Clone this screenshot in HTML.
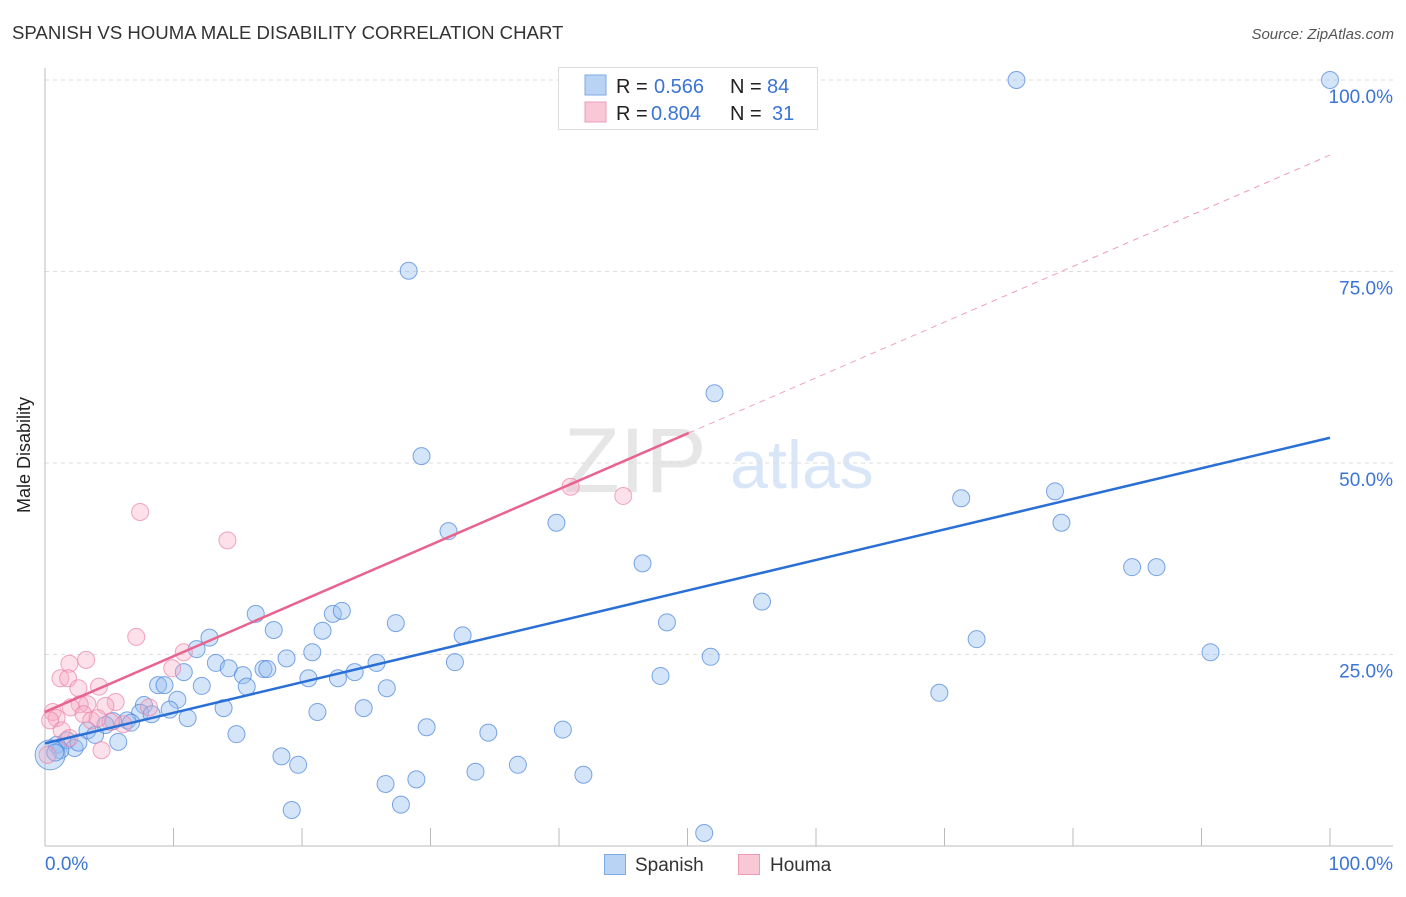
<!DOCTYPE html>
<html><head><meta charset="utf-8"><style>
body{margin:0;background:#fff;font-family:"Liberation Sans",sans-serif;}
svg text{font-family:"Liberation Sans",sans-serif;}
</style></head><body>
<svg id="chart" width="1406" height="892">
<text x="12" y="39" font-size="18.6" fill="#333">SPANISH VS HOUMA MALE DISABILITY CORRELATION CHART</text>
<text x="1394" y="39" font-size="15" fill="#555" text-anchor="end" font-style="italic">Source: ZipAtlas.com</text>
<g>
<text x="635" y="492" font-size="92" fill="#e6e6e6" text-anchor="middle" font-family="Liberation Serif">ZIP</text>
<text x="802" y="488" font-size="68" fill="#d8e6f7" text-anchor="middle">atlas</text>
</g>
<g id="grid"></g>
<g id="axes"></g>
<g id="marks"></g>
<text x="30" y="455" font-size="18" fill="#222" text-anchor="middle" transform="rotate(-90 30 455)">Male Disability</text>
<g>
<rect x="558.5" y="67.5" width="259" height="62" fill="#fff" stroke="#ddd"/>
<rect x="585" y="75" width="21" height="20" fill="#b9d3f5" stroke="#7fa9e6"/>
<rect x="585" y="102" width="21" height="20" fill="#f9c8d6" stroke="#ee9bb4"/>
<text x="616" y="93" font-size="20" fill="#222">R = </text><text x="654" y="93" font-size="20" fill="#3a74d6">0.566</text>
<text x="730" y="93" font-size="20" fill="#222">N = </text><text x="767" y="93" font-size="20" fill="#3a74d6">84</text>
<text x="616" y="120" font-size="20" fill="#222">R = </text><text x="651" y="120" font-size="20" fill="#3a74d6">0.804</text>
<text x="730" y="120" font-size="20" fill="#222">N = </text><text x="772" y="120" font-size="20" fill="#3a74d6">31</text>
</g>
<g>
<rect x="604.5" y="854.5" width="21" height="20" fill="#b9d3f5" stroke="#7fa9e6"/>
<text x="635" y="871" font-size="19" fill="#333">Spanish</text>
<rect x="738.5" y="854.5" width="21" height="20" fill="#f9c8d6" stroke="#ee9bb4"/>
<text x="770" y="871" font-size="19" fill="#333">Houma</text>
</g>
</svg>
<script>
const yTicks=[25,50,75,100];
const yTickLabels=["25.0%","50.0%","75.0%","100.0%"];
const xTickCount=10;
const spanishX=[75.6,100,28.3,52.1,29.3,71.3,78.6,79.1,39.8,31.4,46.5,84.6,86.5,55.8,16.4,22.4,23.1,27.3,48.4,17.8,21.6,32.5,12.8,72.5,11.8,20.8,90.7,51.8,13.3,18.8,25.8,31.9,14.3,17.0,17.3,10.8,15.4,24.1,20.5,22.8,47.9,8.8,9.3,12.2,15.7,26.6,69.6,10.3,7.7,13.9,9.7,24.8,7.4,8.3,21.2,11.1,6.4,5.3,6.7,4.7,3.3,29.7,40.3,14.9,34.5,3.9,1.7,5.7,0.9,2.3,1.2,0.4,18.4,19.7,36.8,33.5,41.9,28.9,26.5,27.7,19.2,51.3,0.8,2.6];
const spanishY=[100,100,75.1,59.1,50.9,45.4,46.3,42.2,42.2,41.1,36.9,36.4,36.4,31.9,30.3,30.3,30.7,29.1,29.2,28.2,28.1,27.5,27.2,27.0,25.7,25.3,25.3,24.7,23.9,24.5,23.9,24.0,23.2,23.1,23.1,22.7,22.3,22.7,21.9,21.9,22.2,21.0,21.0,20.9,20.8,20.6,20.0,19.1,18.4,18.0,17.8,18.0,17.4,17.2,17.5,16.7,16.4,16.3,16.1,15.8,15.1,15.5,15.2,14.6,14.8,14.5,13.8,13.6,13.2,12.8,12.5,11.9,11.7,10.6,10.6,9.7,9.3,8.7,8.1,5.4,4.7,1.7,12.2,13.5];
const houmaX=[7.4,14.2,40.9,45.0,7.1,3.2,1.9,10.8,9.9,1.2,1.8,2.6,4.2,5.5,3.3,2.7,2.0,4.7,8.1,0.6,0.9,3.0,3.6,4.1,0.4,1.3,1.9,4.4,0.2,5.1,6.1];
const houmaY=[43.6,39.9,46.9,45.7,27.3,24.3,23.8,25.3,23.2,21.9,21.9,20.6,20.8,18.8,18.5,18.5,18.1,18.3,18.1,17.5,16.7,17.2,16.4,16.7,16.4,15.1,14.1,12.5,11.9,16.2,15.9];
const spanishTrend=[13.4,53.3];
const houmaTrend=[17.5,90.2];
const houmaSolidEnd=50.1;
const NS="http://www.w3.org/2000/svg";
const X=v=>45+v*12.85, Y=v=>846-v*7.66;
function mk(tag,parent,attrs){const e=document.createElementNS(NS,tag);for(const k in attrs)e.setAttribute(k,attrs[k]);document.getElementById(parent).appendChild(e);return e;}
yTicks.forEach((t,i)=>{
 const g=mk('line','grid',{x1:45,x2:1393,y1:Y(t),y2:Y(t),stroke:'#ddd','stroke-dasharray':'4,4'});
 
 
 const l=mk('text','axes',{x:1393,y:Y(t)+23,'font-size':19,fill:'#3a74d6','text-anchor':'end'});
 l.textContent=yTickLabels[i];
 
 
});
const ax=mk('line','axes',{x1:45,x2:45,y1:68,y2:846,stroke:'#bbb'});


const bx=mk('line','axes',{x1:45,x2:1393,y1:846,y2:846,stroke:'#bbb'});


for(let i=0;i<=xTickCount;i++){
 const t=mk('line','axes',{x1:X(i*10),x2:X(i*10),y1:828,y2:846,stroke:'#bbb'});
 
 
}
const x0=mk('text','axes',{x:45,y:870,'font-size':19,fill:'#3a74d6'});x0.textContent='0.0%';


const x1=mk('text','axes',{x:1393,y:870,'font-size':19,fill:'#3a74d6','text-anchor':'end'});x1.textContent='100.0%';


spanishX.forEach((v,i)=>{
 const c=mk('circle','marks',{cx:X(v),cy:Y(spanishY[i]),r:i===71?15:8.5,fill:'rgba(150,190,240,0.4)',stroke:'rgba(70,130,220,0.7)','stroke-width':1});
 
 
});
houmaX.forEach((v,i)=>{
 const c=mk('circle','marks',{cx:X(v),cy:Y(houmaY[i]),r:8.5,fill:'rgba(245,170,195,0.35)',stroke:'rgba(235,130,165,0.7)','stroke-width':1});
 
 
});
const hs=houmaTrend[0]+(houmaTrend[1]-houmaTrend[0])*houmaSolidEnd/100;
const hd=mk('line','marks',{x1:X(houmaSolidEnd),y1:Y(hs),x2:X(100),y2:Y(houmaTrend[1]),stroke:'#f0a0b8','stroke-width':1,'stroke-dasharray':'6,5'});


const hl=mk('line','marks',{x1:X(0),y1:Y(houmaTrend[0]),x2:X(houmaSolidEnd),y2:Y(hs),stroke:'#e8638e','stroke-width':2.5});


const sl=mk('line','marks',{x1:X(0),y1:Y(spanishTrend[0]),x2:X(100),y2:Y(spanishTrend[1]),stroke:'#2a6fd6','stroke-width':2.5});


</script>
</body></html>
